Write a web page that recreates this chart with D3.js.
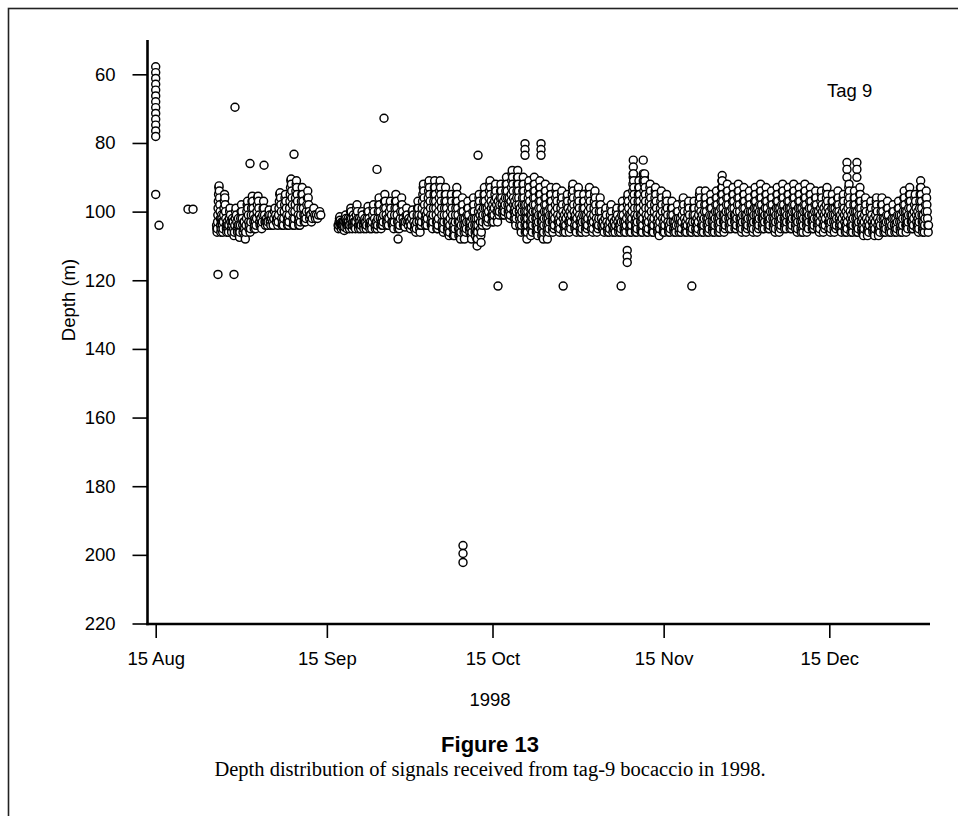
<!DOCTYPE html>
<html>
<head>
<meta charset="utf-8">
<script src="https://cdn.jsdelivr.net/npm/d3@7"></script>
<style>
  html, body { margin: 0; padding: 0; background: #fff; }
  svg { display: block; }
</style>
</head>
<body>
<svg id="chart" width="958" height="816"></svg>
<script>
// ---------------- DATA ----------------
const baseDate = "1998-08-15";                 // day 0
const xTickDates = ["1998-08-15", "1998-09-15", "1998-10-15", "1998-11-15", "1998-12-15"];
const yTickDepths = [60, 80, 100, 120, 140, 160, 180, 200, 220];

// Column of detections on 15 Aug (day 0)
const aug15Day = 0.0;
const aug15Depths = [57.8, 59.5, 61.2, 62.9, 64.6, 66.3, 68, 69.7, 71.4, 73.1, 74.8, 76.5, 78.1];

// Isolated detections: day since 15 Aug, depth (m)
const outlierDays   = [0.0, 0.6, 5.85, 6.76, 11.28, 14.18, 14.36, 17.08, 19.62, 25.05,
                       40.08, 41.35, 43.9, 55.66, 55.66, 55.66, 58.38,
                       62.0, 66.89, 66.89, 66.89, 69.79, 69.79, 69.79, 73.8,
                       84.3, 85.4, 85.4, 85.4, 86.5, 86.5, 86.5, 88.3, 88.3, 88.3,
                       97.1, 102.6, 102.6, 125.2, 125.2, 125.2, 127.0, 127.0, 127.0];
const outlierDepths = [95, 104, 99.3, 99.3, 118.3, 118.3, 69.6, 86, 86.5, 83.3,
                       87.7, 72.8, 108, 197.3, 199.6, 202.2, 83.6,
                       121.7, 80.2, 81.9, 83.6, 80.2, 81.9, 83.6, 121.7,
                       121.7, 111.3, 113.1, 114.8, 85, 87, 89, 85, 89, 91,
                       121.7, 89.5, 91, 85.7, 87.7, 90, 85.7, 87.7, 90];

// Late Aug - mid Sep: detections per day, in order received (first day = 26 Aug = day 11)
const augSepFirstDay = 11;
const augSepDepths = [
  "104 105 106 105 103 101 99 97 95 93 92.5 94 96 98 100 102 104 106 105 103 101 102",
  "103 104 106 105 103 101 99 97 95 96 98 100 102 104 105 106 104 103",
  "104 105 106 104 102 100 99 101 103 105 106 104 102 103",
  "103 105 107 106 104 102 100 99 101 103 105 106 104 102",
  "104 106 107.5 106 104 102 100 98 100 102 104 106 105 103",
  "103 105 107 108 106 104 102 100 98 97 99 101 103 105 104",
  "104 106 105 103 101 99 97 95.5 97 99 101 103 105 104 102",
  "103 105 104 102 100 98 96 95.5 97 99 101 103 104 102",
  "102 104 105 103 101 99 97 99 101 103 104 103",
  "102 103 104 103 101 99.5 101 103 104 102",
  "101 103 104 102 100 99 101 103 102",
  "102 104 103 101 99 97 95 94.5 96 98 100 102 104 103",
  "103 104 102 100 98 96 95 97 99 101 103 104 102",
  "102 104 103 101 99 97 95 93 91 90.5 92 94 96 98 100 102 104 103",
  "103 104 102 100 98 96 94 92 91 93 95 97 99 101 103 104 102",
  "102 104 103 101 99 97 95 93 95 97 99 101 103 102",
  "101 103 102 100 98 96 94 96 98 100 102 101",
  "101 103 102 100 99 101 102",
  "101 102 101 100 101"
];

// 17 Sep - 31 Dec: detections per day, in order received (first day = 17 Sep = day 33)
const mainFirstDay = 33;
const mainDepths = [
  "104 105 104 103 102 101.5 102.5 103.5 104 105 104 103 103.5 104.5 104 103",
  "103 104 105.5 104.5 103 102 101 102 103 104 105 104 103 102 103 104",
  "104 105 104 102 100 99 100 102 104 105 104 103 101 102 104 103",
  "103 104 105 103 101 99 98 100 102 104 105 104 102 103",
  "104 105 104 102 100 101 103 104 105 103 102 104",
  "103 105 104 102 100 98.5 100 102 104 105 103 104",
  "104 105 103 101 99 98 100 102 104 105 104 103",
  "103 105 104 102 100 98 96 98 100 102 104 105 103 104",
  "102 104 103 101 99 97 95 97 99 101 103 104 102",
  "103 104 102 100 98 97 99 101 103 104 103",
  "104 105 103 101 99 97 95 97 99 101 103 105 104",
  "103 105 104 102 100 98 96 98 100 102 104 103",
  "104 104.5 103 101 99 101 103 104 102 103",
  "103 105 104 102 100 99.5 101 103 105 104",
  "104 106 105 103 101 99 97 99 101 103 105 106 104",
  "102 104 103 101 99 97 95 93 92 94 96 98 100 102 104 103 101",
  "101 103 104 102 100 98 96 94 92 91 93 95 97 99 101 103 104 102",
  "102 104 105 103 101 99 97 95 93 91 93 95 97 99 101 103 105 104",
  "103 105 104 102 100 98 96 94 92 91 93 95 97 99 101 103 105 104",
  "104 106 105 103 101 99 97 95 93 95 97 99 101 103 105 106 104",
  "103 105 107 106 104 102 100 98 96 95 97 99 101 103 105 107 105",
  "104 106 107 105 103 101 99 97 95 93 95 97 99 101 103 105 107 106",
  "103 105 107 108 106 104 102 100 98 96 98 100 102 104 106 108 105",
  "102 104 106 105 103 101 99 97 99 101 103 105 106 104",
  "103 105 107 108 106 104 102 100 98 96 98 100 102 104 106 107 105",
  "102 104 106 108 110 108 106 104 102 100 98 96 95 97 99 101 103 105 107 109 106",
  "100 102 104 103 101 99 97 95 93 95 97 99 101 103 104 102",
  "99 101 103 102 100 98 96 94 92 91 93 95 97 99 101 103 101",
  "98 100 102 103 101 99 97 95 93 92 94 96 98 100 102 103 100",
  "97 99 101 100 98 96 94 92 94 96 98 100 101 99",
  "97 99 101 100 98 96 94 92 90 92 94 96 98 100 101 99",
  "96 98 100 102 101 99 97 95 93 91 89 88 90 92 94 96 98 100 102 100",
  "97 99 101 103 104 102 100 98 96 94 92 90 88 90 92 94 96 98 100 102 104 101",
  "99 101 103 105 106 104 102 100 98 96 94 92 90 92 94 96 98 100 102 104 106 103",
  "98 100 102 104 106 108 106 104 102 100 98 96 94 92 91 93 95 97 99 101 103 105 107 104",
  "99 101 103 105 106 104 102 100 98 96 94 92 90 92 94 96 98 100 102 104 106 103",
  "100 102 104 106 107 105 103 101 99 97 95 93 91 93 95 97 99 101 103 105 107 104",
  "101 103 105 107 108 106 104 102 100 98 96 94 92 94 96 98 100 102 104 106 108 105",
  "100 102 104 106 105 103 101 99 97 95 93 95 97 99 101 103 105 106 103",
  "101 103 105 104 102 100 98 96 94 93 95 97 99 101 103 105 103",
  "102 104 106 105 103 101 99 97 95 94 96 98 100 102 104 106 104",
  "101 103 105 106 104 102 100 98 96 95 97 99 101 103 105 106 103",
  "100 102 104 105 103 101 99 97 95 93 92 94 96 98 100 102 104 105 102",
  "101 103 105 106 104 102 100 98 96 94 93 95 97 99 101 103 105 106 103",
  "102 104 106 105 103 101 99 97 95 97 99 101 103 105 106 104",
  "101 103 105 104 102 100 98 96 94 93 95 97 99 101 103 105 103",
  "102 104 106 105 103 101 99 97 95 94 96 98 100 102 104 106 104",
  "103 105 104 102 100 98 96 98 100 102 104 105 103",
  "103 105 106 104 102 100 99 101 103 105 106 104",
  "104 106 105 103 101 99 98 100 102 104 106 105 103",
  "103 105 106 104 102 100 99 101 103 105 106 104",
  "102 104 106 105 103 101 99 97 99 101 103 105 106 104",
  "103 105 106 104 102 100 98 96 95 97 99 101 103 105 106 104",
  "101 103 105 106 104 102 100 98 96 94 92 90 89 91 93 95 97 99 101 103 105 106 104 102",
  "102 104 106 105 103 101 99 97 95 93 91 93 95 97 99 101 103 105 106 104",
  "101 103 105 106 104 102 100 98 96 94 92 90 89 91 93 95 97 99 101 103 105 106 103",
  "102 104 106 105 103 101 99 97 95 93 92 94 96 98 100 102 104 106 104",
  "103 105 106 104 102 100 98 96 94 93 95 97 99 101 103 105 106 104",
  "102 104 106 107 105 103 101 99 97 95 94 96 98 100 102 104 106 105",
  "103 105 106 104 102 100 98 96 95 97 99 101 103 105 106 104",
  "104 106 105 103 101 99 97 99 101 103 105 106 104",
  "103 105 106 104 102 100 98 100 102 104 106 105 103",
  "102 104 106 105 103 101 99 97 96 98 100 102 104 106 104",
  "103 105 106 104 102 100 98 97 99 101 103 105 106 104",
  "104 106 105 103 101 99 97 99 101 103 105 106 104",
  "102 104 106 105 103 101 99 97 95 94 96 98 100 102 104 106 104",
  "101 103 105 106 104 102 100 98 96 94 96 98 100 102 104 106 103",
  "102 104 106 105 103 101 99 97 95 97 99 101 103 105 106 104",
  "101 103 105 106 104 102 100 98 96 94 96 98 100 102 104 106 103",
  "100 102 104 106 105 103 101 99 97 95 93 91 93 95 97 99 101 103 105 106 103",
  "101 103 105 104 102 100 98 96 94 92 94 96 98 100 102 104 105 103",
  "100 102 104 105 103 101 99 97 95 93 95 97 99 101 103 105 102",
  "101 103 105 104 102 100 98 96 94 92 94 96 98 100 102 104 105 103",
  "102 104 106 105 103 101 99 97 95 93 95 97 99 101 103 105 106 104",
  "101 103 105 104 102 100 98 96 94 96 98 100 102 104 105 103",
  "100 102 104 106 105 103 101 99 97 95 93 95 97 99 101 103 105 106 103",
  "99 101 103 105 104 102 100 98 96 94 92 94 96 98 100 102 104 105 102",
  "100 102 104 105 103 101 99 97 95 93 95 97 99 101 103 105 103",
  "101 103 105 104 102 100 98 96 94 96 98 100 102 104 105 103",
  "100 102 104 106 105 103 101 99 97 95 93 95 97 99 101 103 105 106 104",
  "99 101 103 105 104 102 100 98 96 94 92 94 96 98 100 102 104 105 103",
  "100 102 104 105 103 101 99 97 95 93 95 97 99 101 103 105 103",
  "99 101 103 105 104 102 100 98 96 94 92 94 96 98 100 102 104 105 102",
  "100 102 104 106 105 103 101 99 97 95 93 95 97 99 101 103 105 106 104",
  "99 101 103 105 106 104 102 100 98 96 94 92 94 96 98 100 102 104 106 103",
  "100 102 104 105 103 101 99 97 95 93 95 97 99 101 103 105 103",
  "101 103 105 104 102 100 98 96 94 96 98 100 102 104 105 103",
  "100 102 104 106 105 103 101 99 97 95 94 96 98 100 102 104 106 104",
  "99 101 103 105 104 102 100 98 96 94 93 95 97 99 101 103 105 103",
  "100 102 104 106 105 103 101 99 97 95 97 99 101 103 105 106 104",
  "99 101 103 105 104 102 100 98 96 94 96 98 100 102 104 105 103",
  "101 103 105 106 104 102 100 98 96 95 97 99 101 103 105 106 104",
  "100 102 104 106 105 103 101 99 97 95 93 92 94 96 98 100 102 104 106 104",
  "101 103 105 106 104 102 100 98 96 94 96 98 100 102 104 106 104",
  "100 102 104 106 105 103 101 99 97 95 93 95 97 99 101 103 105 106 104",
  "102 104 106 107 105 103 101 99 97 96 98 100 102 104 106 107 105",
  "103 105 106 104 102 100 98 97 99 101 103 105 106 104",
  "102 104 106 107 105 103 101 99 97 96 98 100 102 104 106 107 105",
  "103 105 106 104 102 100 98 96 98 100 102 104 106 105",
  "102 104 106 105 103 101 99 97 99 101 103 105 106 104",
  "103 105 106 104 102 100 98 100 102 104 106 105",
  "102 104 106 105 103 101 99 97 99 101 103 105 106 104",
  "101 103 105 106 104 102 100 98 96 94 96 98 100 102 104 106 104",
  "100 102 104 105 103 101 99 97 95 93 95 97 99 101 103 105 103",
  "101 103 105 104 102 100 98 96 95 97 99 101 103 105 104",
  "100 102 104 106 105 103 101 99 97 95 93 91 93 95 97 99 101 103 105 106 104",
  "101 103 105 106 104 102 100 98 96 94 96 98 100 102 104 106 104"
];

// ---------------- CHART ----------------
const svg = d3.select("#chart");
const DAY = 86400000;
const t0 = Date.parse(baseDate + "T00:00:00Z");
const dayToDate = d => new Date(t0 + d * DAY);

const x = d3.scaleUtc()
  .domain([new Date(Date.parse("1998-08-15T00:00:00Z")), new Date(Date.parse("1998-12-15T00:00:00Z"))])
  .range([155.7, 829.3]);
const y = d3.scaleLinear().domain([50, 220]).range([40, 623.5]);

// build points in time order
function expandDaily(firstDay, rows) {
  const out = [];
  rows.forEach((row, k) => {
    const vals = row.trim().split(/\s+/).map(Number);
    vals.forEach((v, i) => out.push({ t: firstDay + k + (i + 0.5) / vals.length, d: v }));
  });
  return out;
}
const points = aug15Depths.map(v => ({ t: aug15Day, d: v }));
const singles = outlierDays.map((t, i) => ({ t, d: outlierDepths[i] }));
points.push(...singles.filter(p => p.t < 1));
const rest = expandDaily(augSepFirstDay, augSepDepths)
  .concat(expandDaily(mainFirstDay, mainDepths))
  .concat(singles.filter(p => p.t >= 1))
  .sort((a, b) => a.t - b.t);
points.push(...rest);

// frame
svg.append("rect")
  .attr("x", 8.5).attr("y", 8.5).attr("width", 1000).attr("height", 1000)
  .attr("fill", "none").attr("stroke", "#222").attr("stroke-width", 1.6);

// points
svg.append("g")
  .selectAll("circle")
  .data(points)
  .join("circle")
  .attr("cx", p => x(dayToDate(p.t)))
  .attr("cy", p => y(p.d))
  .attr("r", 4.0)
  .attr("fill", "#fff")
  .attr("stroke", "#000")
  .attr("stroke-width", 1.45);

// axes
const axisFont = "'Liberation Sans', Arial, Helvetica, sans-serif";
const fs = 18.5;
const gy = svg.append("g")
  .attr("transform", "translate(147.5,0)")
  .call(d3.axisLeft(y).tickValues(yTickDepths).tickSize(15).tickPadding(17).tickFormat(d3.format("d")));
gy.select(".domain").remove();
gy.selectAll(".tick line").attr("stroke", "#000").attr("stroke-width", 1.6);
gy.selectAll(".tick text").attr("font-family", axisFont).attr("font-size", fs).attr("fill", "#000");

const gx = svg.append("g")
  .attr("transform", "translate(0,624)")
  .call(d3.axisBottom(x).tickValues(xTickDates.map(s => new Date(Date.parse(s + "T00:00:00Z"))))
    .tickSize(14).tickFormat(d3.utcFormat("%d %b")));
gx.select(".domain").remove();
gx.selectAll(".tick line").attr("stroke", "#000").attr("stroke-width", 1.6);
gx.selectAll(".tick text").attr("font-family", axisFont).attr("font-size", fs).attr("fill", "#000")
  .attr("y", 41).attr("dy", 0);

// axis lines
svg.append("line").attr("x1", 147.5).attr("x2", 147.5).attr("y1", 40).attr("y2", 625.2)
  .attr("stroke", "#000").attr("stroke-width", 2.6);
svg.append("line").attr("x1", 146.2).attr("x2", 930).attr("y1", 624).attr("y2", 624)
  .attr("stroke", "#000").attr("stroke-width", 2.6);

// labels
svg.append("text")
  .attr("transform", "translate(75,300) rotate(-90)")
  .attr("text-anchor", "middle")
  .attr("font-family", axisFont).attr("font-size", fs)
  .text("Depth (m)");
svg.append("text")
  .attr("x", 490).attr("y", 706).attr("text-anchor", "middle")
  .attr("font-family", axisFont).attr("font-size", fs)
  .text("1998");
svg.append("text")
  .attr("x", 827).attr("y", 96.5)
  .attr("font-family", axisFont).attr("font-size", fs)
  .text("Tag 9");
svg.append("text")
  .attr("x", 490).attr("y", 752).attr("text-anchor", "middle")
  .attr("font-family", axisFont).attr("font-weight", "bold").attr("font-size", 22)
  .text("Figure 13");
svg.append("text")
  .attr("x", 490).attr("y", 776).attr("text-anchor", "middle")
  .attr("font-family", "'Liberation Serif', 'DejaVu Serif', serif").attr("font-size", 20.5)
  .text("Depth distribution of signals received from tag-9 bocaccio in 1998.");
</script>
</body>
</html>
